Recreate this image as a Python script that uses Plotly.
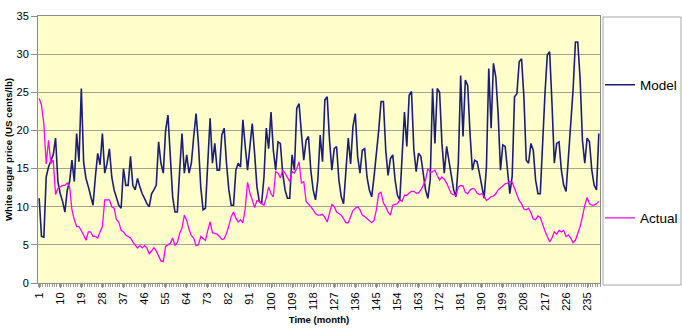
import plotly.graph_objects as go

# ---------------- data ----------------
months = list(range(1, 241))

model = [
    11.1, 6.1, 6.0, 13.9, 15.2, 16.1, 16.8, 19.0, 13.3, 11.7,
    10.7, 9.3, 12.2, 13.3, 16.1, 13.3, 19.6, 15.9, 25.5, 15.8,
    13.7, 12.6, 11.3, 10.2, 13.9, 17.0, 15.5, 19.6, 14.4, 15.7,
    17.6, 13.9, 12.2, 11.1, 10.2, 9.8, 15.0, 12.8, 12.8, 16.6,
    12.8, 12.2, 13.7, 12.6, 11.7, 11.1, 10.4, 10.0, 11.7, 12.2,
    12.8, 18.5, 15.7, 14.4, 20.0, 22.0, 15.7, 11.3, 9.3, 9.3,
    14.8, 19.6, 14.4, 16.8, 14.4, 15.7, 19.2, 22.2, 18.3, 12.6,
    9.6, 9.8, 15.7, 21.6, 15.7, 18.3, 14.8, 14.8, 19.4, 20.3,
    15.7, 12.2, 10.2, 10.2, 14.8, 15.7, 15.2, 21.4, 17.9, 14.8,
    17.9, 20.9, 17.0, 12.6, 10.7, 10.4, 13.9, 20.3, 17.6, 22.4,
    17.4, 14.8, 18.5, 18.3, 14.4, 12.2, 11.1, 11.1, 16.8, 14.8,
    22.9, 23.5, 19.6, 16.1, 18.7, 19.2, 14.8, 12.2, 10.9, 13.5,
    19.4, 15.9, 24.0, 24.4, 18.7, 14.8, 17.6, 17.9, 13.5, 11.3,
    10.4, 15.5, 19.0, 15.6, 20.5, 22.2, 16.6, 14.4, 17.4, 17.6,
    13.9, 12.2, 11.3, 13.9, 16.8, 20.0, 23.8, 23.8, 17.4, 14.1,
    16.3, 16.8, 13.5, 11.5, 10.9, 16.1, 22.4, 17.9, 24.6, 25.1,
    17.5, 14.6, 17.0, 16.6, 14.0, 12.2, 11.1, 13.5, 25.5, 18.3,
    25.5, 25.0, 18.3, 14.4, 17.9, 16.1, 13.9, 12.2, 11.3, 15.7,
    27.2, 19.2, 26.6, 25.9, 19.6, 14.8, 16.1, 15.9, 14.4, 12.6,
    11.1, 15.2, 28.1, 20.3, 28.8, 27.0, 22.2, 14.8, 18.1, 17.9,
    14.4, 11.7, 14.0, 24.4, 24.8, 29.0, 29.4, 24.4, 16.1, 15.7,
    18.3, 17.4, 13.5, 11.7, 11.7, 19.2, 24.8, 29.9, 30.3, 23.5,
    15.7, 18.3, 18.5, 14.8, 12.8, 12.0, 16.6, 19.8, 25.3, 31.6,
    31.6, 26.8, 18.7, 15.7, 19.0, 18.5, 14.8, 12.8, 12.2, 19.6,
]

actual = [
    24.2, 23.3, 20.9, 15.6, 18.7, 15.7, 16.1, 11.6, 12.4, 12.6,
    12.8, 12.8, 13.1, 12.6, 9.6, 8.3, 7.4, 7.4, 6.9, 6.3,
    5.6, 6.7, 6.7, 6.1, 6.1, 5.9, 6.7, 7.4, 10.9, 10.9,
    10.9, 10.0, 9.8, 8.3, 8.0, 6.9, 6.7, 6.3, 6.1, 5.9,
    5.4, 5.0, 4.6, 4.9, 4.6, 4.9, 4.6, 3.8, 4.2, 4.6,
    4.2, 3.6, 2.9, 2.8, 4.8, 5.0, 5.2, 5.9, 4.9, 5.3,
    6.5, 7.2, 8.9, 8.2, 7.0, 6.2, 5.9, 4.9, 5.0, 6.1,
    5.8, 5.6, 6.9, 8.0, 6.6, 6.5, 6.4, 6.1, 5.7, 5.8,
    6.5, 7.5, 8.7, 9.3, 8.5, 8.0, 8.3, 7.9, 9.8, 13.2,
    11.8, 10.9, 9.9, 10.8, 10.7, 10.4, 10.2, 11.2, 12.6, 11.7,
    11.3, 14.6, 14.4, 13.8, 14.8, 14.4, 13.9, 13.3, 14.6, 14.4,
    15.0, 15.9, 13.1, 13.3, 10.7, 10.4, 10.0, 9.6, 9.1, 8.9,
    8.9, 9.0, 8.6, 8.0, 9.0, 10.3, 10.0, 9.3, 9.1, 8.9,
    8.4, 7.9, 7.9, 8.7, 9.5, 9.8, 10.0, 9.6, 8.9, 8.7,
    8.4, 8.1, 7.9, 8.2, 9.6, 11.7, 11.9, 10.5, 10.0, 9.3,
    8.9, 10.2, 10.3, 10.4, 10.9, 10.7, 11.5, 11.5, 11.8, 12.0,
    12.0, 11.8, 11.8, 12.2, 12.8, 13.5, 15.0, 14.5, 14.6, 14.8,
    14.1, 13.5, 13.9, 13.6, 13.1, 12.4, 11.7, 11.6, 11.5, 12.6,
    12.8, 12.7, 11.9, 11.7, 12.2, 12.4, 12.3, 11.8, 11.6, 11.7,
    11.4, 10.8, 11.1, 11.3, 11.4, 11.7, 12.2, 12.5, 12.8, 13.0,
    13.1, 13.3, 13.2, 12.3, 11.4, 10.8, 10.4, 9.7, 9.6, 9.8,
    9.2, 8.4, 8.3, 8.8, 8.6, 7.6, 6.8, 6.1, 5.4, 5.9,
    6.7, 6.4, 6.9, 6.7, 6.9, 6.1, 6.3, 5.9, 5.3, 5.6,
    6.5, 7.4, 8.7, 10.2, 11.2, 10.4, 10.2, 10.2, 10.4, 10.7,
]

x_tick_vals = list(range(1, 241, 9))
x_tick_text = [str(v) for v in x_tick_vals]
y_tick_vals = [0, 5, 10, 15, 20, 25, 30, 35]

series_names = ["Model", "Actual"]
series_colors = ["#1c1c7a", "#ff00ff"]

# ---------------- figure ----------------
W, H = 682, 330
ML, MR, MT, MB = 38, 82, 16, 47
FONT = "Liberation Sans, Arial, sans-serif"

fig = go.Figure()
fig.add_trace(go.Scatter(
    x=months, y=model, mode="lines", name=series_names[0],
    line=dict(color=series_colors[0], width=1.6), legend="legend"))
fig.add_trace(go.Scatter(
    x=months, y=actual, mode="lines", name=series_names[1],
    line=dict(color=series_colors[1], width=1.3), legend="legend2"))

pw = W - ML - MR
ph = H - MT - MB
def px_x(p):
    return (p - ML) / pw
def px_y(p):
    return (H - MB - p) / ph

# legend box
fig.add_shape(type="rect", xref="paper", yref="paper",
              x0=px_x(603), x1=px_x(681), y0=px_y(285), y1=px_y(17),
              line=dict(color="#a6a6a6", width=1), fillcolor="white", layer="below")

leg_common = dict(xanchor="left", yanchor="middle", bgcolor="rgba(0,0,0,0)",
                  borderwidth=0, itemwidth=30,
                  font=dict(family=FONT, size=13.5, color="black"))

fig.update_layout(
    width=W, height=H,
    margin=dict(l=ML, r=MR, t=MT, b=MB, pad=0, autoexpand=False),
    paper_bgcolor="white",
    plot_bgcolor="#FFFFCC",
    font=dict(family=FONT, size=11, color="black"),
    showlegend=True,
    legend=dict(x=px_x(600), y=px_y(85), **leg_common),
    legend2=dict(x=px_x(600), y=px_y(218), **leg_common),
    xaxis=dict(
        range=[0.5, 240.5],
        tickvals=x_tick_vals, ticktext=x_tick_text,
        tickangle=-90,
        ticks="outside", ticklen=4, tickcolor="#8c8c8c",
        minor=dict(ticks="outside", ticklen=3, dtick=1, tick0=0.5, tickcolor="#9a9a9a", showgrid=False),
        showgrid=False, zeroline=False,
        showline=True, linecolor="#8c8c8c", linewidth=1, mirror=True,
        tickfont=dict(family=FONT, size=11, color="black"),
        title=dict(text="<b>Time (month)</b>", standoff=6,
                   font=dict(family=FONT, size=9.6, color="black")),
        automargin=False,
    ),
    yaxis=dict(
        range=[0, 35], tickvals=y_tick_vals,
        ticks="outside", ticklen=6, tickcolor="#8c8c8c",
        showgrid=True, gridcolor="#a4a48e", gridwidth=1,
        zeroline=False,
        showline=True, linecolor="#8c8c8c", linewidth=1, mirror=True,
        tickfont=dict(family=FONT, size=11, color="black"),
        title=dict(text="<b>White sugar price (US cents/lb)</b>", standoff=2,
                   font=dict(family=FONT, size=9.7, color="black")),
        automargin=False,
    ),
)

fig.write_html("out.html")
